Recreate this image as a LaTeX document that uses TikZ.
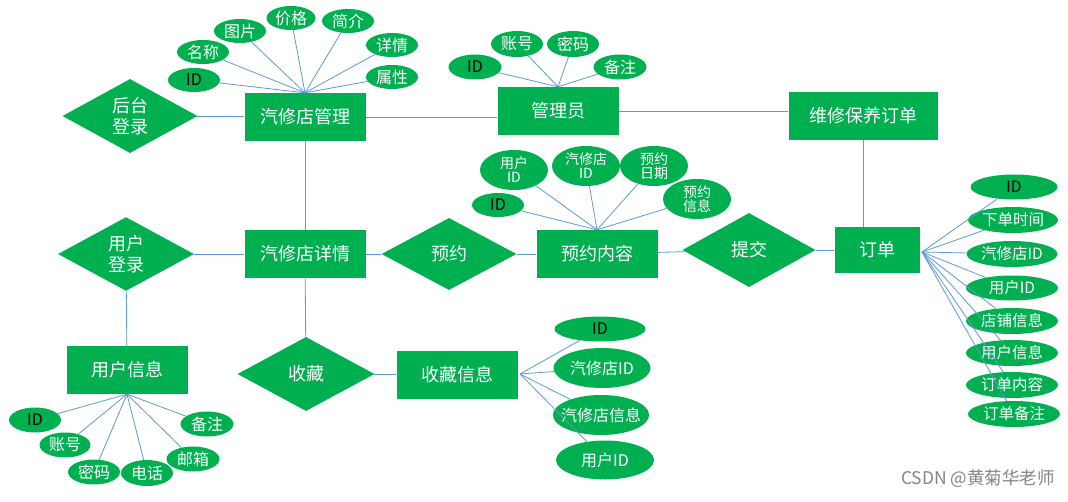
\documentclass[tikz,border=0pt]{standalone}
\usepackage{fontspec}
\setmainfont{Noto Sans CJK SC}
\usetikzlibrary{shapes.geometric}
\definecolor{eg}{HTML}{00AF50}
\definecolor{ln}{HTML}{5B9BD5}
\tikzset{
  ent/.style={rectangle, fill=eg, text=white, inner sep=0pt, minimum width=121pt, minimum height=48pt, font=\fontsize{18}{20}\selectfont},
  rel/.style={diamond, fill=eg, text=white, inner sep=0pt, align=center, font=\fontsize{18}{21}\selectfont},
  att/.style={ellipse, fill=eg, text=white, inner sep=-6pt, minimum width=52pt, minimum height=24pt, font=\fontsize{16}{17}\selectfont},
  idatt/.style={att, text=black},
  att2/.style={att, align=center, minimum width=68pt, minimum height=40pt, font=\fontsize{14}{14}\selectfont},
  wide/.style={minimum width=90pt, minimum height=26pt, font=\fontsize{15.5}{17}\selectfont},
  con/.style={draw=ln, line width=0.8pt}
}
\begin{document}
\begin{tikzpicture}[x=1pt,y=-1pt]
\useasboundingbox[fill=white] (0,0) rectangle (1068,501);
% entities
\node[ent] (gl) at (305,117) {汽修店管理};
\node[ent] (admin) at (558,111) {管理员};
\node[ent, minimum width=149pt] (wx) at (863,116) {维修保养订单};
\node[ent, minimum width=85pt, minimum height=46pt] (dd) at (877,250) {订单};
\node[ent] (yynr) at (597,254) {预约内容};
\node[ent] (xq) at (305,254) {汽修店详情};
\node[ent] (yh) at (127,370) {用户信息};
\node[ent] (sc) at (457,375) {收藏信息};
% relations
\node[rel, minimum width=135pt, minimum height=74pt] (ht) at (130,116) {后台\\登录};
\node[rel, minimum width=133pt, minimum height=74pt] (tj) at (749,250) {提交};
\node[rel, minimum width=135pt, minimum height=72pt] (yy) at (449,254) {预约};
\node[rel, minimum width=136pt, minimum height=73pt] (dl) at (126,254) {用户\\登录};
\node[rel, minimum width=137pt, minimum height=74pt] (shc) at (306,374) {收藏};
% main connectors
\draw[con] (ht) -- (gl);
\draw[con] (gl) -- (admin.west |- gl);
\draw[con] (admin.east) -- (wx.west |- admin.east);
\draw[con] (wx.south) -- (wx.south |- dd.north);
\draw[con] (gl) -- (xq);
\draw[con] (xq) -- (yy);
\draw[con] (yy) -- (yynr);
\draw[con] (yynr) -- (tj);
\draw[con] (tj) -- (dd);
\draw[con] (dl) -- (xq);
\draw[con] (dl) -- (yh);
\draw[con] (xq) -- (shc);
\draw[con] (shc) -- (sc);
% 汽修店管理 attributes
\node[idatt] (g1) at (194,80) {ID};
\node[att] (g2) at (203,52) {名称};
\node[att] (g3) at (240,31) {图片};
\node[att, minimum width=49pt] (g4) at (291,18) {价格};
\node[att] (g5) at (348,21) {简介};
\node[att] (g6) at (392,45) {详情};
\node[att] (g7) at (392,77) {属性};
\foreach \a in {g1,g2,g3,g4,g5,g6,g7} \draw[con] (gl.north) -- (\a);
% 管理员 attributes
\node[idatt, minimum width=53pt, minimum height=25pt] (a1) at (475,67) {ID};
\node[att, minimum height=26pt] (a2) at (517,44) {账号};
\node[att, minimum height=26pt] (a3) at (573,44) {密码};
\node[att, minimum width=53pt, minimum height=25pt] (a4) at (620,67) {备注};
\foreach \a in {a1,a2,a3,a4} \draw[con] (admin.north) -- (\a);
% 预约内容 attributes
\node[att2] (y1) at (514,170) {用户\\ID};
\node[att2] (y2) at (586,166) {汽修店\\ID};
\node[att2] (y3) at (654,166) {预约\\日期};
\node[idatt] (y4) at (498,205) {ID};
\node[att2] (y5) at (697,199) {预约\\信息};
\foreach \a in {y1,y2,y3,y4,y5} \draw[con] (yynr.north) -- (\a);
% 订单 attributes
\coordinate (dc) at (922,252);
\node[idatt, wide, minimum width=87pt, minimum height=25pt] (d1) at (1014,187) {ID};
\node[att, wide] (d2) at (1013,220) {下单时间};
\node[att, wide, minimum width=91pt] (d3) at (1012,254) {汽修店ID};
\node[att, wide, minimum width=92pt, minimum height=25pt] (d4) at (1012,288) {用户ID};
\node[att, wide, minimum width=92pt] (d5) at (1012,321) {店铺信息};
\node[att, wide, minimum width=92pt] (d6) at (1012,353) {用户信息};
\node[att, wide, minimum width=92pt] (d7) at (1012,385) {订单内容};
\node[att, wide, minimum width=92pt] (d8) at (1014,414) {订单备注};
\foreach \a in {d1,d2,d3,d4,d5,d6,d7,d8} \draw[con] (dc) -- (\a);
% 收藏信息 attributes
\coordinate (sc0) at (520,374);
\node[idatt, minimum width=91pt, minimum height=25pt] (s1) at (600,329) {ID};
\node[att, minimum width=97pt, minimum height=40pt] (s2) at (602,368) {汽修店ID};
\node[att, minimum width=96pt, minimum height=40pt] (s3) at (601,415) {汽修店信息};
\node[att, minimum width=98pt, minimum height=39pt] (s4) at (605,460) {用户ID};
\foreach \a in {s1,s2,s3,s4} \draw[con] (sc0) -- (\a);
% 用户信息 attributes
\node[idatt, minimum height=25pt] (u1) at (35,420) {ID};
\node[att, minimum width=51pt, minimum height=25pt] (u2) at (65,445) {账号};
\node[att, minimum height=25pt] (u3) at (94,472) {密码};
\node[att, minimum height=26pt] (u4) at (147,473) {电话};
\node[att, minimum width=53pt, minimum height=25pt] (u5) at (193,459) {邮箱};
\node[att, minimum width=53pt, minimum height=25pt] (u6) at (207,424) {备注};
\foreach \a in {u1,u2,u3,u4,u5,u6} \draw[con] (yh.south) -- (\a);
% watermark
\node[anchor=east, text=black!48, inner sep=0pt, font=\fontsize{17.5}{18}\selectfont] (wm) at (1055,479) {CSDN @黄菊华老师};
\end{tikzpicture}
\end{document}
